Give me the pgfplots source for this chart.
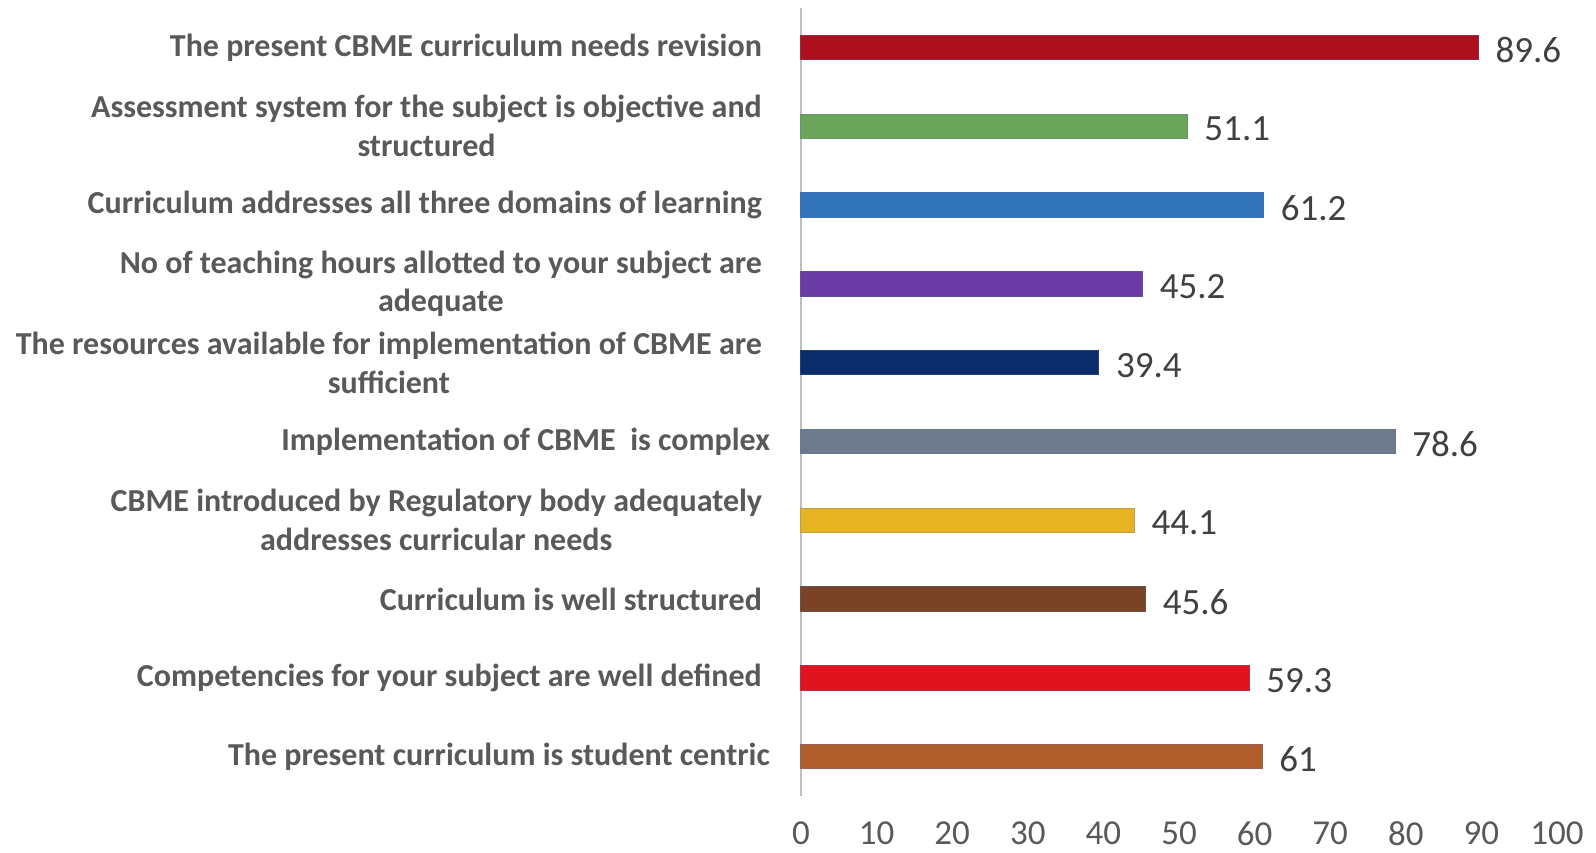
\documentclass[border=0pt]{standalone}
\usepackage{pgfplots}
\pgfplotsset{compat=1.18}
\usepackage{fontspec}
\setmainfont{Carlito}
\definecolor{c1}{HTML}{AC101F}
\definecolor{c2}{HTML}{6AA55A}
\definecolor{c3}{HTML}{3173B8}
\definecolor{c4}{HTML}{6A3AA5}
\definecolor{c5}{HTML}{0B2C6B}
\definecolor{c6}{HTML}{6E7A8C}
\definecolor{c7}{HTML}{E6B422}
\definecolor{c8}{HTML}{7A4226}
\definecolor{c9}{HTML}{E0141E}
\definecolor{c10}{HTML}{B05E2C}
\definecolor{lbl}{HTML}{595959}
\definecolor{val}{HTML}{404040}
\definecolor{edge}{HTML}{5A6FA8}
\begin{document}
\begin{tikzpicture}
\path[use as bounding box] (0,0) rectangle (798pt,426pt);
\begin{axis}[
  at={(400.5pt,28pt)}, anchor=south west,
  width=378pt, height=394pt, scale only axis,
  xbar, bar width=12.2pt, bar shift=0pt,
  xmin=0, xmax=100, ymin=0.5, ymax=10.5, y dir=reverse,
  xtick={0,10,...,100}, ytick={1,...,10},
  yticklabels={
    {The present CBME curriculum needs revision},
    {Assessment system for the subject is objective and\\structured},
    {Curriculum addresses all three domains of learning},
    {No of teaching hours allotted to your subject are\\adequate},
    {The resources available for implementation of CBME are\\sufficient},
    {Implementation of CBME\ \ is complex\hspace*{-4pt}},
    {CBME introduced by Regulatory body adequately\\addresses curricular needs},
    {Curriculum is well structured},
    {Competencies for your subject are well defined},
    {The present curriculum is student centric\hspace*{-4pt}}},
  yticklabel style={align=center, font=\fontsize{16}{19.4}\selectfont\bfseries, text=lbl, xshift=-16pt},
  xticklabel style={font=\fontsize{17.5}{20}\selectfont, text=lbl, inner sep=0pt, yshift=-12.5pt},
  /pgf/number format/assume math mode=true,
  major tick length=0pt,
  axis x line*=bottom, x axis line style={draw=none},
  axis y line*=left, y axis line style={draw=black!25, line width=1pt},
  clip=false,
  nodes near coords,
  nodes near coords style={font=\fontsize{18.5}{22}\selectfont, text=val, anchor=west, xshift=5pt, yshift=-1.5pt},
  point meta=explicit symbolic,
]
\addplot[fill=c1, draw=c1!70!edge, line width=0.5pt] coordinates {(89.6,1) [89.6]};
\addplot[fill=c2, draw=c2!70!edge, line width=0.5pt] coordinates {(51.1,2) [51.1]};
\addplot[fill=c3, draw=c3!70!edge, line width=0.5pt] coordinates {(61.2,3) [61.2]};
\addplot[fill=c4, draw=c4!70!edge, line width=0.5pt] coordinates {(45.2,4) [45.2]};
\addplot[fill=c5, draw=c5!70!edge, line width=0.5pt] coordinates {(39.4,5) [39.4]};
\addplot[fill=c6, draw=c6!70!edge, line width=0.5pt] coordinates {(78.6,6) [78.6]};
\addplot[fill=c7, draw=c7!70!edge, line width=0.5pt] coordinates {(44.1,7) [44.1]};
\addplot[fill=c8, draw=c8!70!edge, line width=0.5pt] coordinates {(45.6,8) [45.6]};
\addplot[fill=c9, draw=c9!70!edge, line width=0.5pt] coordinates {(59.3,9) [59.3]};
\addplot[fill=c10, draw=c10!70!edge, line width=0.5pt] coordinates {(61,10) [61]};
\end{axis}
\end{tikzpicture}
\end{document}
